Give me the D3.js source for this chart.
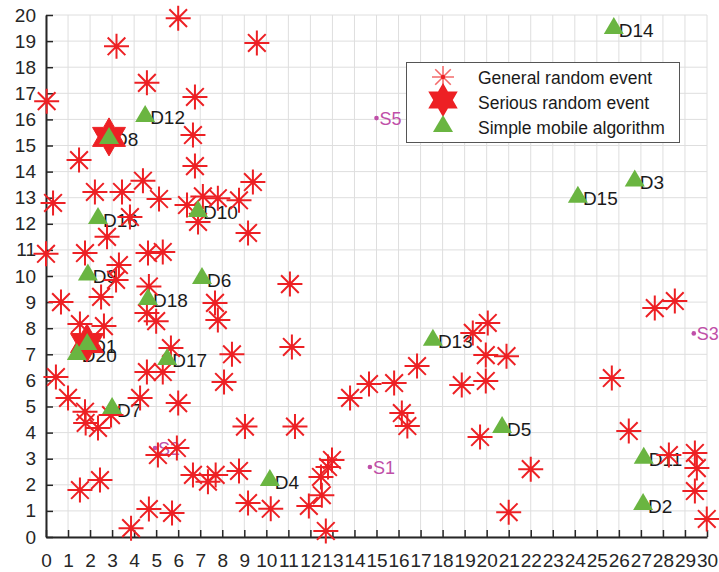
<!DOCTYPE html>
<html>
<head>
<meta charset="utf-8">
<script src="https://cdn.jsdelivr.net/npm/d3@7"></script>
<style>
  body { margin: 0; background: #fff; }
  text { font-family: Arial, "Liberation Sans", sans-serif; }
</style>
</head>
<body>
<svg id="chart" width="719" height="572"></svg>
<script>
// general random events [x, y]
let generalEvents = [
    [0.03,16.7],[3.2,18.8],[6.0,19.88],[9.57,18.93],[4.58,17.4],[6.76,16.86],[6.67,15.4],[1.5,14.44],[6.76,14.21],[9.39,13.6],
    [4.4,13.65],[2.22,13.22],[3.45,13.22],[5.13,12.95],[6.4,12.72],[7.12,13.05],[7.8,12.98],[8.76,12.9],[6.9,12.07],[3.81,12.26],
    [0.32,12.8],[2.77,11.5],[9.17,11.65],[0.0,10.85],[1.77,10.88],[4.63,10.88],[5.3,10.92],[3.31,10.42],[3.18,9.85],[0.68,9.0],
    [2.5,9.2],[4.67,9.6],[4.58,8.58],[5.0,8.27],[1.54,8.16],[2.63,8.08],[11.07,9.69],[7.67,8.97],[7.8,8.31],[11.16,7.28],
    [5.67,7.24],[8.44,7.0],[0.45,6.13],[4.58,6.32],[5.3,6.32],[8.08,5.94],[1.0,5.33],[4.27,5.33],[6.0,5.13],[1.77,4.8],
    [1.8,4.37],[2.36,4.18],[2.95,4.67],[9.03,4.23],[11.3,4.23],[5.08,3.14],[5.94,3.41],[1.54,1.8],[2.45,2.18],[6.67,2.38],
    [7.35,2.12],[7.7,2.38],[8.76,2.53],[9.17,1.3],[10.2,1.08],[3.86,0.34],[4.67,1.07],[5.72,0.92],[11.93,1.19],[12.52,1.6],
    [12.48,2.3],[12.8,2.68],[12.98,2.95],[12.7,0.23],[13.8,5.33],[14.66,5.86],[15.8,5.9],[16.84,6.55],[16.15,4.75],[16.4,4.25],
    [19.37,7.82],[20.05,8.2],[19.96,6.97],[20.9,6.93],[18.87,5.82],[19.96,5.98],[19.7,3.83],[21.0,0.95],[22.0,2.6],
    [27.63,8.77],[28.54,9.04],[25.68,6.09],[26.45,4.06],[28.27,3.14],[29.45,3.22],[29.54,2.64],[29.45,1.76],[29.99,0.69]
];

// serious random events [x, y]
let seriousEvents = [[2.86,15.33],[1.86,7.43]];

// mobile nodes of the simple mobile algorithm
let nodeNames = ["D1","D2","D3","D4","D5","D6","D7","D8","D9","D10",
                 "D11","D12","D13","D14","D15","D16","D17","D18","D20"];
let nodeX = [1.87,27.1,26.72,10.16,20.7,7.08,3.0,2.86,1.9,6.9,
             27.13,4.5,17.56,25.77,24.14,2.36,5.5,4.63,1.4];
let nodeY = [7.43,1.3,13.7,2.22,4.25,9.96,4.98,15.33,10.1,12.53,
             3.07,16.17,7.6,19.54,13.07,12.26,6.86,9.16,7.05];

// sink points
let sinkNames = ["S1","S2","S3","S5"];
let sinkX = [14.7,4.95,29.4,15.0];
let sinkY = [2.68,3.41,7.8,16.05];

let xTicks = d3.range(0, 31);
let yTicks = d3.range(0, 21);
let legendLabels = ["General random event", "Serious random event", "Simple mobile algorithm"];

let red = "#ed2024",
    green = "#6ab541",
    magenta = "#bf4fa8";

let svg = d3.select("#chart"),
    margin = {top: 15, right: 12, bottom: 35, left: 46},
    width = +svg.attr("width"),
    height = +svg.attr("height");

let x = d3.scaleLinear().domain([0, 30]).range([margin.left, width - margin.right]);
let y = d3.scaleLinear().domain([0, 20]).range([height - margin.bottom, margin.top]);

function starPath(r) {
    let d = r * 0.707;
    return "M" + (-r) + ",0H" + r + "M0," + (-r) + "V" + r +
        "M" + (-d) + "," + (-d) + "L" + d + "," + d +
        "M" + (-d) + "," + d + "L" + d + "," + (-d);
}

function hexagramPath(R) {
    let pts = [];
    for (let k = 0; k < 12; k++) {
        let a = -Math.PI / 2 + k * Math.PI / 6;
        let rr = k % 2 === 0 ? R : R / Math.sqrt(3);
        pts.push([rr * Math.cos(a), rr * Math.sin(a)]);
    }
    return "M" + pts.map(p => p[0].toFixed(2) + "," + p[1].toFixed(2)).join("L") + "Z";
}

let trianglePath = "M0,-10L10,7L-10,7Z";

// grid
let grid = svg.append("g").attr("class", "grid")
    .attr("stroke", "#dedede").attr("stroke-width", 1);
grid.selectAll(".gx").data(xTicks).enter().append("line")
    .attr("x1", d => x(d)).attr("x2", d => x(d))
    .attr("y1", y(0)).attr("y2", y(20));
grid.selectAll(".gy").data(yTicks).enter().append("line")
    .attr("x1", x(0)).attr("x2", x(30))
    .attr("y1", d => y(d)).attr("y2", d => y(d));

// axes
let xAxis = d3.axisBottom(x).tickValues(xTicks).tickSizeInner(-7).tickSizeOuter(0).tickPadding(16.5);
let yAxis = d3.axisLeft(y).tickValues(yTicks).tickSizeInner(-7).tickSizeOuter(0).tickPadding(10);

let gx = svg.append("g")
    .attr("transform", "translate(0," + y(0) + ")")
    .call(xAxis);
let gy = svg.append("g")
    .attr("transform", "translate(" + x(0) + ",0)")
    .call(yAxis);

[gx, gy].forEach(g => {
    g.select(".domain").attr("stroke", "#262626").attr("stroke-width", 2);
    g.selectAll(".tick line").attr("stroke", "#262626").attr("stroke-width", 1.5);
    g.selectAll(".tick text").attr("fill", "#262626").style("font-size", "19px")
        .style("font-family", "Arial, 'Liberation Sans', sans-serif");
});

// node labels (drawn below the markers)
svg.append("g").selectAll("text").data(nodeNames).enter().append("text")
    .attr("x", (d, i) => x(nodeX[i]) + 5)
    .attr("y", (d, i) => y(nodeY[i]) + 3)
    .attr("dominant-baseline", "central")
    .attr("fill", "#1a1a1a")
    .style("font-size", "19px")
    .text(d => d);

// sinks
let sinks = svg.append("g");
sinks.selectAll("circle").data(sinkNames).enter().append("circle")
    .attr("cx", (d, i) => x(sinkX[i]))
    .attr("cy", (d, i) => y(sinkY[i]))
    .attr("r", 2.3)
    .attr("fill", magenta);
sinks.selectAll("text").data(sinkNames).enter().append("text")
    .attr("x", (d, i) => x(sinkX[i]) + 3)
    .attr("y", (d, i) => y(sinkY[i]) + 1)
    .attr("dominant-baseline", "central")
    .attr("fill", magenta)
    .style("font-size", "18px")
    .text(d => d);

// general events
svg.append("g").selectAll("path").data(generalEvents).enter().append("path")
    .attr("transform", d => "translate(" + x(d[0]) + "," + y(d[1]) + ")")
    .attr("d", starPath(12.5))
    .attr("fill", "none")
    .attr("stroke", red)
    .attr("stroke-width", 2);

// serious events
svg.append("g").selectAll("path").data(seriousEvents).enter().append("path")
    .attr("transform", d => "translate(" + x(d[0]) + "," + y(d[1]) + ")")
    .attr("d", hexagramPath(19))
    .attr("fill", red)
    .attr("stroke", red)
    .attr("stroke-width", 1);

// mobile nodes
svg.append("g").selectAll("path").data(nodeNames).enter().append("path")
    .attr("transform", (d, i) => "translate(" + x(nodeX[i]) + "," + y(nodeY[i]) + ")")
    .attr("d", trianglePath)
    .attr("fill", green);

// legend
let legend = svg.append("g").attr("class", "legend");
legend.append("rect")
    .attr("x", 406.5).attr("y", 62.5)
    .attr("width", 273).attr("height", 80)
    .attr("fill", "#fff")
    .attr("stroke", "#555").attr("stroke-width", 1);

legend.append("path")
    .attr("transform", "translate(443,77)")
    .attr("d", starPath(11))
    .attr("fill", "none")
    .attr("stroke", "#f46b6b")
    .attr("stroke-width", 1.6);
legend.append("circle")
    .attr("cx", 443).attr("cy", 77).attr("r", 2.2)
    .attr("fill", red);
legend.append("path")
    .attr("transform", "translate(443,100)")
    .attr("d", hexagramPath(17))
    .attr("fill", red);
legend.append("path")
    .attr("transform", "translate(443,125)")
    .attr("d", trianglePath)
    .attr("fill", green);

legend.selectAll("text").data(legendLabels).enter().append("text")
    .attr("x", 478)
    .attr("y", (d, i) => 78 + i * 25)
    .attr("dominant-baseline", "central")
    .attr("fill", "#1a1a1a")
    .style("font-size", "17.5px")
    .text(d => d);
</script>
</body>
</html>
